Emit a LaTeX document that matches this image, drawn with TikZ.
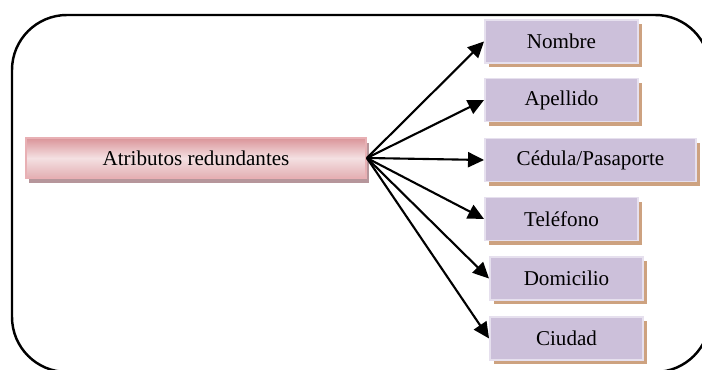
\documentclass[tikz,border=0pt]{standalone}
\usepackage{fontspec}
\setmainfont{Liberation Serif}
\usetikzlibrary{positioning,arrows.meta,shadows}

\definecolor{lila}{RGB}{204,192,218}
\definecolor{lilaborde}{RGB}{230,224,238}
\definecolor{tostado}{RGB}{205,162,128}
\definecolor{rosa}{RGB}{218,148,153}
\definecolor{rosaclaro}{RGB}{244,224,226}
\definecolor{rosaborde}{RGB}{232,176,180}
\definecolor{rosasombra}{RGB}{182,150,155}

\begin{document}
\begin{tikzpicture}
[
	caja/.style={draw=lilaborde,line width=1.1pt,fill=lila,inner sep=0pt,
		minimum width=3.06cm,minimum height=0.86cm,font=\fontsize{12}{14}\selectfont,
		drop shadow={shadow xshift=0.07cm,shadow yshift=-0.09cm,fill=tostado,opacity=1}},
	principal/.style={draw=rosaborde,line width=1pt,top color=rosa,bottom color=rosa!75,
		middle color=rosaclaro,inner sep=0pt,minimum width=6.8cm,minimum height=0.8cm,
		font=\fontsize{12}{14}\selectfont,
		drop shadow={shadow xshift=0.06cm,shadow yshift=-0.1cm,fill=rosasombra,opacity=1}},
	flecha/.style={-{Triangle[length=0.32cm,width=0.3cm]},line width=1.2pt}
]

	\useasboundingbox (0,0) rectangle (14.04,7.4);

	% marco
	\draw[line width=1.4pt,rounded corners=1.1cm] (0.24,-0.04) rectangle (14.2,7.1);

	\node[principal] (atr) at (3.92,4.24) {Atributos redundantes};

	% atributos
	\node[caja] (nom) at (11.23,6.57) {Nombre};
	\node[caja] (ape) at (11.23,5.40) {Apellido};
	\node[caja,minimum width=4.22cm] (ced) at (11.81,4.20) {Cédula/Pasaporte};
	\node[caja] (tel) at (11.23,3.02) {Teléfono};
	\node[caja] (dom) at (11.33,1.83) {Domicilio};
	\node[caja] (ciu) at (11.33,0.63) {Ciudad};

	\foreach \n in {nom,ape,ced,tel,dom,ciu}
		\draw[flecha] (atr.east) -- (\n.west);

\end{tikzpicture}
\end{document}
